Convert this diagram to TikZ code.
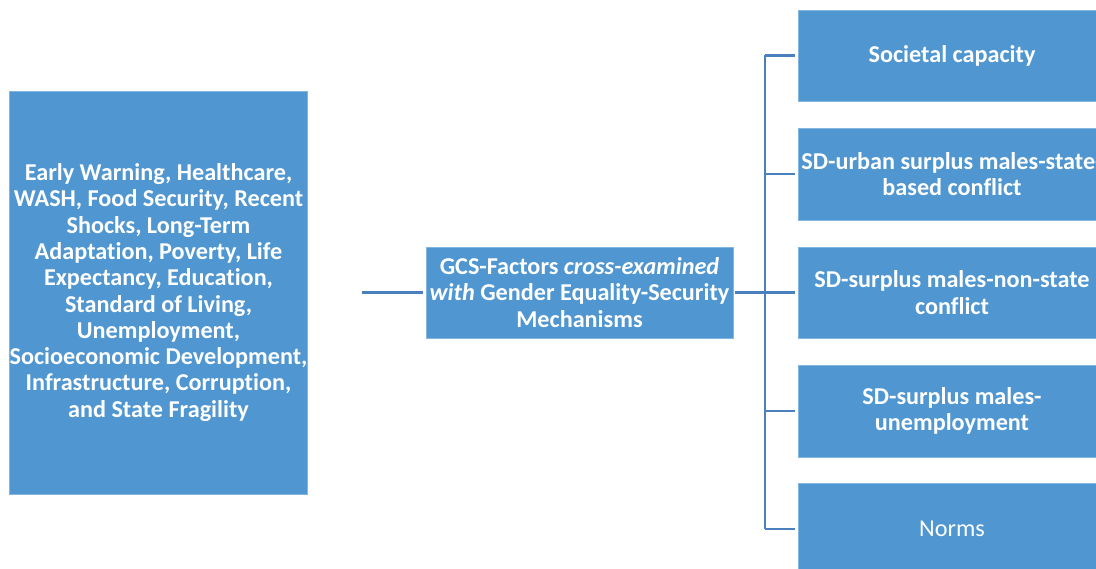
\documentclass[tikz,border=0pt]{standalone}
\usepackage{fontspec}
\setmainfont[Ligatures={NoCommon}]{Carlito}
\definecolor{boxblue}{RGB}{80,150,208}
\definecolor{lineblue}{RGB}{74,128,190}
\begin{document}
\begin{tikzpicture}[x=1pt,y=-1pt,
  bx/.style={fill=boxblue,draw=boxblue!70!white,line width=0.6pt,text=white,align=center,inner sep=0pt,
    font=\fontsize{24.2}{26.3}\selectfont\bfseries},
  conn/.style={draw=lineblue,line width=2.8pt}]
\useasboundingbox (0,0) rectangle (1096,569);
\clip (0,0) rectangle (1096,569);
\node[bx,minimum width=295,minimum height=403] (left) at (158.5,292.5)
  {Early Warning, Healthcare,\\WASH, Food Security, Recent\\Shocks, Long-Term\\Adaptation, Poverty, Life\\Expectancy, Education,\\Standard of Living,\\Unemployment,\\Socioeconomic Development,\\Infrastructure, Corruption,\\and State Fragility};
\node[bx,minimum width=307,minimum height=91] (mid) at (579.5,292.5)
  {GCS-Factors \textit{cross-examined}\\\textit{with} Gender Equality-Security\\Mechanisms};
\node[bx,minimum width=308,minimum height=91] (r1) at (952,55.5) {Societal capacity};
\node[bx,minimum width=308,minimum height=92] (r2) at (952,174) {SD-urban surplus males-state-\\based conflict};
\node[bx,minimum width=308,minimum height=91] (r3) at (952,292.5) {SD-surplus males-non-state\\conflict};
\node[bx,minimum width=308,minimum height=92] (r4) at (952,411) {SD-surplus males-\\unemployment};
\node[bx,minimum width=308,minimum height=92,font=\fontsize{24.2}{26.3}\selectfont] (r5) at (952,529) {Norms};
\coordinate (lstart) at (362,292.5);
\coordinate (t1) at (765,55.5);
\coordinate (t2) at (765,174);
\coordinate (t3) at (765,292.5);
\coordinate (t4) at (765,411);
\coordinate (t5) at (765,529);
\draw[conn] (lstart) -- ([xshift=-3pt]mid.west);
\draw[conn] ([xshift=2pt]mid.east) -- (t3);
\draw[conn] (t1) -- (t5);
\foreach \i in {1,...,5} \draw[conn] (t\i) -- ([xshift=-3pt]r\i.west);
\end{tikzpicture}
\end{document}
